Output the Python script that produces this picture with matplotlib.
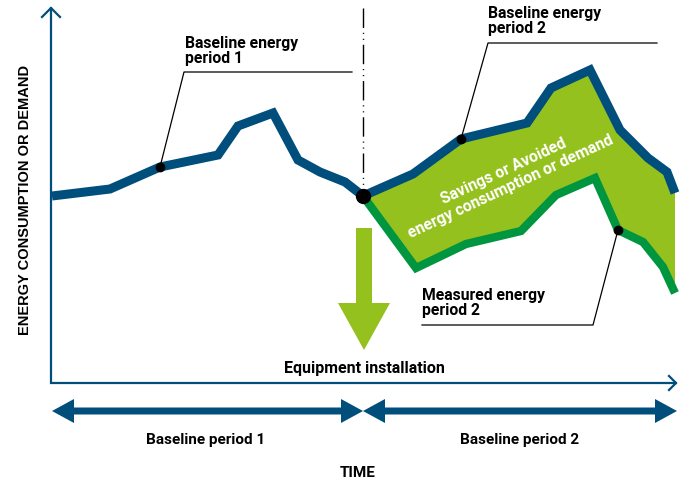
import matplotlib
matplotlib.use("Agg")
import matplotlib.pyplot as plt
import numpy as np

plt.rcParams['font.family'] = ['Roboto', 'DejaVu Sans']

# colours
BLUE = '#004E7C'
LIME = '#95C11F'
GREEN = '#00963F'

# baseline period 1 (time, energy above the time axis)
p1_time = [0, 58, 108, 166, 186, 221, 246, 268, 293, 311]
p1_energy = [187, 194, 216, 228, 257, 270, 223, 211, 201, 187]

# baseline period 2 (what would have been used)
p2_base_time = [311, 361, 409, 475, 499, 538, 568, 596, 615, 623]
p2_base_energy = [187, 209, 244, 260, 295, 313, 253, 225, 211, 190]

# measured period 2
p2_meas_time = [311, 364, 414, 469, 504, 543, 566, 591, 611, 623]
p2_meas_energy = [187, 115, 139, 152, 188, 205, 153, 141, 116, 90]

install_time = 311
time_end = 624
energy_top = 375

fig = plt.figure(figsize=(6.89, 4.86), dpi=100)
ax = fig.add_axes([0, 0, 1, 1])
ax.set_xlim(-52, 637)
ax.set_ylim(-103, 383)
ax.axis('off')

# axes with open arrow heads
ax.plot([-1, -1, time_end], [energy_top, 0, 0], color=BLUE, lw=1.6, solid_joinstyle='miter')
ax.plot([-10, -1, 8], [energy_top - 9, energy_top, energy_top - 9], color=BLUE, lw=1.6)
ax.plot([time_end - 7, time_end, time_end - 7], [7, 0, -7], color=BLUE, lw=1.6)

# savings area between baseline and measured
fill_t = np.concatenate([p2_base_time, p2_meas_time[::-1]])
fill_e = np.concatenate([p2_base_energy, p2_meas_energy[::-1]])
ax.fill(fill_t, fill_e, color=LIME, lw=0, zorder=1)

ax.plot(p2_meas_time, p2_meas_energy, color=GREEN, lw=6, solid_joinstyle='miter',
        solid_capstyle='butt', zorder=2)
ax.plot(p1_time, p1_energy, color=BLUE, lw=6.5, solid_joinstyle='miter',
        solid_capstyle='butt', zorder=3)
ax.plot(p2_base_time, p2_base_energy, color=BLUE, lw=6.5, solid_joinstyle='miter',
        solid_capstyle='butt', zorder=3)

# installation marker line
ax.plot([install_time, install_time], [energy_top, 193], color='black', lw=1,
        linestyle=(0, (14, 3.5, 0.8, 3.5, 0.8, 3.5)), zorder=2)
ax.plot(install_time, p1_energy[-1], 'o', color='black', ms=10, zorder=5)

lab = dict(fontsize=11.3, fontweight='bold', linespacing=1.0)

# leader lines for labels
ax.plot([p1_time[2], 132, 300], [p1_energy[2], 311, 311], color='black', lw=0.9, zorder=4)
ax.plot(p1_time[2], p1_energy[2], 'o', color='black', ms=6, zorder=5)
ax.text(133, 347, 'Baseline energy\nperiod 1', va='top', ha='left', **lab)

ax.plot([p2_base_time[2], 436, 605], [p2_base_energy[2], 340, 340], color='black', lw=0.9, zorder=4)
ax.plot(p2_base_time[2], p2_base_energy[2], 'o', color='black', ms=6, zorder=5)
ax.text(436, 377, 'Baseline energy\nperiod 2', va='top', ha='left', **lab)

ax.plot([p2_meas_time[6], 541, 370], [p2_meas_energy[6], 58, 58], color='black', lw=0.9, zorder=4)
ax.plot(p2_meas_time[6], p2_meas_energy[6], 'o', color='black', ms=6, zorder=5)
ax.text(370, 95, 'Measured energy\nperiod 2', va='top', ha='left', **lab)

ax.text(455, 204, 'Savings or Avoided\nenergy consumption or demand', color='white',
        fontsize=11.3, fontweight='bold', rotation=25, rotation_mode='anchor',
        ha='center', va='center', multialignment='center', linespacing=1.2, zorder=6)

# green down arrow at installation
arrow_t = [304, 320, 320, 338, 312, 286, 304]
arrow_e = [155, 155, 80, 80, 33, 80, 80]
ax.fill(arrow_t, arrow_e, color=LIME, lw=0, zorder=2)
ax.text(312, 15, 'Equipment installation', fontsize=11.5, fontweight='bold',
        ha='center', va='center')


def double_arrow(t0, t1, e, half=3.5, head=22, hw=12):
    xs = [t0, t0 + head, t0 + head, t1 - head, t1 - head, t1,
          t1 - head, t1 - head, t0 + head, t0 + head, t0]
    ys = [e, e + hw, e + half, e + half, e + hw, e,
          e - hw, e - half, e - half, e - hw, e]
    ax.fill(xs, ys, color=BLUE, lw=0)


double_arrow(0, install_time, -28)
double_arrow(install_time, time_end + 1, -28)

ax.text(154, -57, 'Baseline period 1', fontsize=11, fontweight='bold', ha='center', va='center')
ax.text(468, -57, 'Baseline period 2', fontsize=11, fontweight='bold', ha='center', va='center')
ax.text(306, -90, 'TIME', fontsize=11, fontweight='bold', ha='center', va='center')
ax.text(-27, 183, 'ENERGY CONSUMPTION OR DEMAND', fontsize=10.5, fontweight='bold',
        family=['Liberation Sans', 'DejaVu Sans'], rotation=90, ha='center', va='center')

fig.savefig('out.png', dpi=100)
